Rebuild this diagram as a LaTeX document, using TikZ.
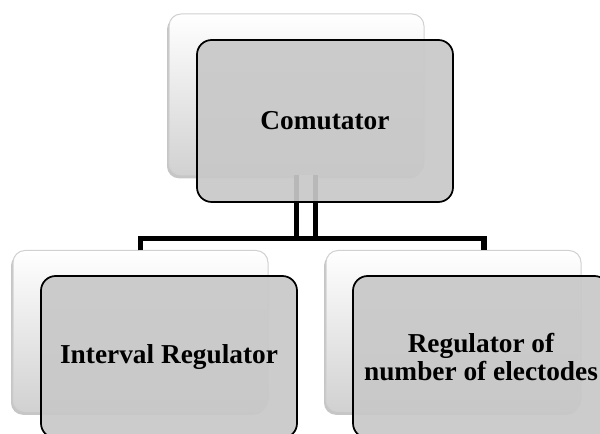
\documentclass[tikz,border=0pt]{standalone}
\usepackage{fontspec}
\setmainfont{Liberation Serif}
\usetikzlibrary{shadows}

\tikzset{every picture/.style={line width=0.75pt}}
\tikzset{
  backcard/.style={rectangle, rounded corners=9pt, minimum width=191.25pt, minimum height=120.75pt,
    inner sep=0pt, outer sep=0pt, draw=black!18, top color=white, bottom color=black!18,
    drop shadow={shadow xshift=-1.5pt, shadow yshift=-2.5pt, opacity=.45}},
  frontcard/.style={rectangle, rounded corners=11pt, minimum width=192pt, minimum height=121.5pt,
    inner sep=0pt, outer sep=0pt, draw=black, line width=1.3pt, fill={rgb,255:red,200;green,200;blue,200},
    fill opacity=0.92, text opacity=1, align=center, font=\fontsize{20.5}{20.5}\selectfont\bfseries},
  trunk/.style={draw=black, line width=3.75pt, double=white, double distance=10.5pt},
  branch/.style={draw=black, line width=4.3pt, line join=miter}
}

\begin{document}
\begin{tikzpicture}[x=0.75pt,y=0.75pt,yscale=-1,xscale=1]
	\clip (0,0) rectangle (600,434);

	%Shape: Rounded Rect [back cards]
	\node[backcard] (comB) at (296.5,94.5) {};
	\node[backcard] (intB) at (140.5,331) {};
	\node[backcard] (elecB) at (453.5,331) {};

	%Straight Lines [connectors]
	\coordinate (trunkEnd) at (306,238.5);
	\coordinate (elecDrop) at (484,250);
	\draw[trunk] (comB.south -| trunkEnd) -- (trunkEnd);
	\draw[branch] (intB.north) -- (intB.north |- trunkEnd) -| (elecDrop);

	% Text Node
	\node[frontcard] (comF) at (325,121) {Comutator};
	% Text Node
	\node[frontcard] (intF) at (169,357) {Interval Regulator};
	% Text Node
	\node[frontcard] (elecF) at (481,357) {Regulator of\\number of electodes};

\end{tikzpicture}
\end{document}
